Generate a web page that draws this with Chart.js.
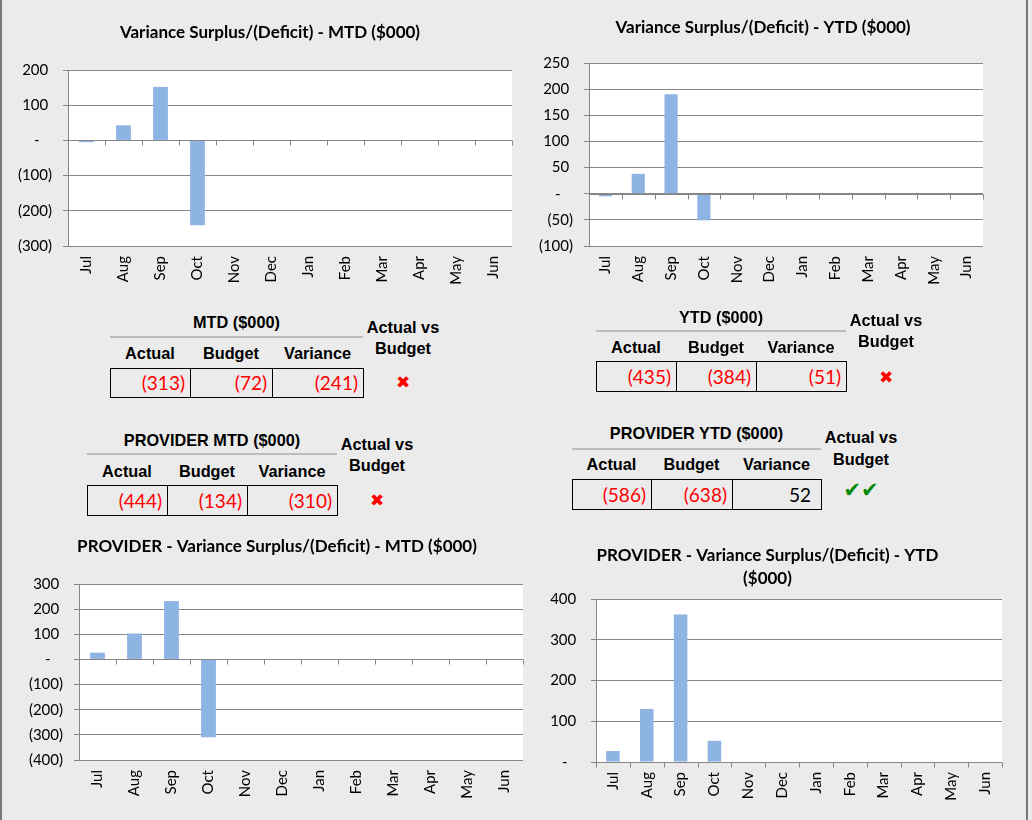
<!DOCTYPE html>
<html>
<head>
<meta charset="utf-8">
<script src="https://cdn.jsdelivr.net/npm/chart.js@4.4.1/dist/chart.umd.min.js"></script>
<style>
  html, body { margin: 0; padding: 0; }
  body { width: 1032px; height: 820px; background: #ebebeb; position: relative; overflow: hidden; }
  .abs { position: absolute; }
  canvas { position: absolute; }
  .hdr { font-family: "Liberation Sans", Arial, sans-serif; font-weight: bold; font-size: 16.3px; color: #000; white-space: nowrap; }
  .num { font-family: Lato, "Open Sans", sans-serif; font-size: 19px; white-space: nowrap; }
</style>
</head>
<body>
<div class="abs" style="left:0;top:0;width:2px;height:820px;background:#777;"></div>
<div class="abs" style="left:1026px;top:0;width:2px;height:820px;background:#777;"></div>

<canvas id="c1" width="540" height="290" style="left:0;top:0;width:540px;height:290px;"></canvas>
<canvas id="c2" width="486" height="290" style="left:520px;top:0;width:486px;height:290px;"></canvas>
<canvas id="c3" width="554" height="290" style="left:0;top:530px;width:554px;height:290px;"></canvas>
<canvas id="c4" width="505" height="290" style="left:515px;top:530px;width:505px;height:290px;"></canvas>

<script>
// ---------- DATA ----------
const months = ['Jul', 'Aug', 'Sep', 'Oct', 'Nov', 'Dec', 'Jan', 'Feb', 'Mar', 'Apr', 'May', 'Jun'];
const mtdVariance = [-5, 43, 152, -241, null, null, null, null, null, null, null, null];
const ytdVariance = [-5, 38, 190, -51, null, null, null, null, null, null, null, null];
const providerMtdVariance = [27, 103, 232, -310, null, null, null, null, null, null, null, null];
const providerYtdVariance = [27, 130, 362, 52, null, null, null, null, null, null, null, null];

const mtdTicks = [-300, -200, -100, 0, 100, 200];
const ytdTicks = [-100, -50, 0, 50, 100, 150, 200, 250];
const providerMtdTicks = [-400, -300, -200, -100, 0, 100, 200, 300];
const providerYtdTicks = [0, 100, 200, 300, 400];

const tableHeaders = ['Actual', 'Budget', 'Variance'];
const mtdTable = [-313, -72, -241];
const ytdTable = [-435, -384, -51];
const providerMtdTable = [-444, -134, -310];
const providerYtdTable = [-586, -638, 52];

// ---------- CHARTS ----------
const GRID = '#868686';
const BAR = '#8eb4e3';

const excelAxis = {
  id: 'excelAxis',
  beforeDraw(chart) {
    const a = chart.chartArea, ctx = chart.ctx;
    ctx.save();
    ctx.fillStyle = '#ffffff';
    ctx.fillRect(a.left, a.top, a.right - a.left, a.bottom - a.top);
    ctx.restore();
  },
  afterDatasetsDraw(chart) {
    const ctx = chart.ctx, x = chart.scales.x, y = chart.scales.y, a = chart.chartArea;
    const y0 = Math.round(y.getPixelForValue(0)) + 0.5;
    ctx.save();
    ctx.strokeStyle = GRID;
    ctx.lineWidth = 1;
    ctx.beginPath();
    ctx.moveTo(a.left, y0);
    ctx.lineTo(a.right, y0);
    const n = chart.data.labels.length;
    for (let i = 0; i <= n; i++) {
      const px = Math.round(x.getPixelForValue(i - 0.5)) + 0.5;
      ctx.moveTo(px, y0);
      ctx.lineTo(px, y0 + 5);
    }
    ctx.stroke();
    ctx.restore();
  }
};

function fmtTick(v) {
  if (v === 0) return '-\u2007\u2005';
  if (v < 0) return '(' + Math.abs(v) + ')';
  return v + '\u2005';
}

function makeChart(id, title, values, ticks, geo) {
  const tickFont = { family: 'Lato', size: 15 };
  return new Chart(document.getElementById(id), {
    type: 'bar',
    data: {
      labels: months,
      datasets: [{ data: values, backgroundColor: BAR, borderWidth: 0, barPercentage: 0.4, categoryPercentage: 1.0, yAxisID: 'y' }]
    },
    options: {
      responsive: false,
      animation: false,
      layout: { padding: 0 },
      plugins: {
        legend: { display: false },
        tooltip: { enabled: false },
        title: {
          display: true,
          text: title,
          color: '#000',
          font: { family: 'Lato', weight: 'bold', size: 17, lineHeight: geo.titleLH },
          padding: { top: geo.titleTop, bottom: geo.titleBottom }
        }
      },
      scales: {
        x: {
          offset: true,
          grid: { display: false, drawTicks: false },
          border: { display: false },
          ticks: { minRotation: 90, maxRotation: 90, autoSkip: false, padding: 10, color: '#000', font: tickFont },
          afterFit: s => { s.height = geo.xH; }
        },
        y: {
          position: 'left',
          min: Math.min(...ticks),
          max: Math.max(...ticks),
          afterBuildTicks: s => { s.ticks = ticks.map(v => ({ value: v })); },
          ticks: { callback: fmtTick, padding: 11, color: '#000', font: tickFont },
          grid: { color: GRID, lineWidth: 1, tickLength: 5 },
          border: { color: GRID, width: 1 },
          afterFit: s => { s.width = geo.yW; }
        },
        spacer: {
          type: 'linear',
          position: 'right',
          display: true,
          ticks: { display: false },
          grid: { display: false, drawTicks: false },
          border: { display: false },
          afterFit: s => { s.width = geo.rightW; }
        }
      }
    },
    plugins: [excelAxis]
  });
}

makeChart('c1', 'Variance Surplus/(Deficit) - MTD ($000)', mtdVariance, mtdTicks,
  { yW: 68, rightW: 28, xH: 44, titleLH: 1.2, titleTop: 22.8, titleBottom: 26.8 });
makeChart('c2', 'Variance Surplus/(Deficit) - YTD ($000)', ytdVariance, ytdTicks,
  { yW: 69, rightW: 23, xH: 44, titleLH: 1.2, titleTop: 17.8, titleBottom: 24.8 });
makeChart('c3', 'PROVIDER - Variance Surplus/(Deficit) - MTD ($000)', providerMtdVariance, providerMtdTicks,
  { yW: 79, rightW: 31, xH: 60, titleLH: 1.2, titleTop: 6.8, titleBottom: 26.8 });
makeChart('c4', ['PROVIDER - Variance Surplus/(Deficit) - YTD', '($000)'], providerYtdVariance, providerYtdTicks,
  { yW: 81, rightW: 18, xH: 58, titleLH: 1.353, titleTop: 14.5, titleBottom: 8.5 });

// ---------- TABLES ----------
function addText(html, cls, cx, cy, lh, extra) {
  const d = document.createElement('div');
  d.className = 'abs ' + cls;
  d.style.left = (cx - 200) + 'px';
  d.style.width = '400px';
  d.style.textAlign = 'center';
  d.style.top = (cy - lh / 2) + 'px';
  d.style.height = lh + 'px';
  d.style.lineHeight = lh + 'px';
  if (extra) Object.assign(d.style, extra);
  d.innerHTML = html;
  document.body.appendChild(d);
  return d;
}

function fmtNum(v) {
  if (v < 0) return '(' + Math.abs(v) + ')';
  return v + '<span style="visibility:hidden">)</span>';
}

function makeTable(title, values, g) {
  const c = g.cols;
  addText(title, 'hdr', (c[0] + c[3]) / 2, g.titleY, 20);
  const line = document.createElement('div');
  line.className = 'abs';
  Object.assign(line.style, { left: c[0] + 'px', top: (g.lineY - 1) + 'px', width: (c[3] - c[0]) + 'px', height: '2px', background: '#bdbdbd' });
  document.body.appendChild(line);
  const h = g.boxBottom - g.boxTop;
  for (let i = 0; i < 3; i++) {
    addText(tableHeaders[i], 'hdr', (c[i] + c[i + 1]) / 2, g.headerY, 20);
    const cell = document.createElement('div');
    cell.className = 'abs num';
    Object.assign(cell.style, {
      left: c[i] + 'px', top: g.boxTop + 'px', width: (c[i + 1] - c[i] + 1) + 'px', height: h + 'px',
      boxSizing: 'border-box', border: '1px solid #000',
      textAlign: 'right', paddingRight: '5px', lineHeight: (h - 2) + 'px',
      color: values[i] < 0 ? '#ff0000' : '#000'
    });
    cell.innerHTML = fmtNum(values[i]);
    document.body.appendChild(cell);
  }
  addText('Actual vs', 'hdr', g.statusX, g.statusY1, 20);
  addText('Budget', 'hdr', g.statusX, g.statusY2, 20);
  const good = values[2] >= 0;
  addText(good ? '\u2714\u2714' : '\u2716', '', g.statusX, g.iconY, 24,
    { fontFamily: '"DejaVu Sans", sans-serif', fontSize: good ? '21px' : '17px', color: good ? '#078a07' : '#ff0000' });
}

makeTable('MTD ($000)', mtdTable,
  { cols: [110, 190, 272, 363], titleY: 322, lineY: 337, headerY: 353, boxTop: 368, boxBottom: 398, statusX: 403, statusY1: 327, statusY2: 348, iconY: 382 });
makeTable('PROVIDER MTD ($000)', providerMtdTable,
  { cols: [87, 167, 247, 337], titleY: 440, lineY: 454, headerY: 471, boxTop: 485, boxBottom: 516, statusX: 377, statusY1: 444, statusY2: 465, iconY: 500 });
makeTable('YTD ($000)', ytdTable,
  { cols: [596, 676, 756, 846], titleY: 317, lineY: 331, headerY: 347, boxTop: 361, boxBottom: 392, statusX: 886, statusY1: 320, statusY2: 341, iconY: 377 });
makeTable('PROVIDER YTD ($000)', providerYtdTable,
  { cols: [572, 651, 732, 821], titleY: 433, lineY: 449, headerY: 464, boxTop: 479, boxBottom: 510, statusX: 861, statusY1: 437, statusY2: 459, iconY: 490 });
</script>
</body>
</html>
